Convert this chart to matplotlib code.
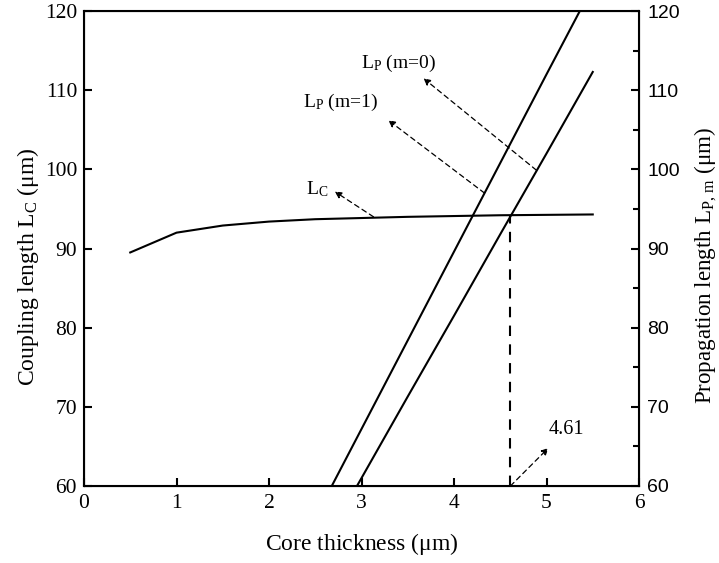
import matplotlib
matplotlib.use("Agg")
import matplotlib.pyplot as plt
from matplotlib.ticker import MultipleLocator

plt.rcParams['font.family'] = 'Liberation Serif'
plt.rcParams['mathtext.fontset'] = 'custom'
plt.rcParams['mathtext.rm'] = 'Liberation Serif'
plt.rcParams['mathtext.it'] = 'Liberation Serif'

# Coupling length vs core thickness
lc_thickness = [0.5, 1.0, 1.5, 2.0, 2.5, 3.0, 3.5, 4.0, 4.5, 5.0, 5.5]
lc_values = [89.5, 92.0, 92.9, 93.4, 93.7, 93.85, 94.0, 94.1, 94.2, 94.25, 94.3]

# Propagation lengths for the two modes
lp_thickness = [2.5, 3.0, 3.5, 4.0, 4.5, 5.0, 5.5]
lp_m1 = [56.0, 67.2, 78.4, 89.6, 100.8, 112.0, 123.1]
lp_m0 = [50.8, 61.0, 71.3, 81.5, 91.8, 102.0, 112.3]

cross_x = 4.61
cross_y = 94.2

fig = plt.figure(figsize=(7.19, 5.63), dpi=100)
ax = fig.add_axes([84 / 719, 1 - 486 / 563, (639 - 84) / 719, (486 - 11) / 563])

ax.plot(lc_thickness, lc_values, color='black', lw=1.5)
ax.plot(lp_thickness, lp_m1, color='black', lw=1.5)
ax.plot(lp_thickness, lp_m0, color='black', lw=1.5)
ax.plot([cross_x, cross_x], [60, cross_y], color='black', lw=1.5, ls=(0, (5, 4)))

ax.set_xlim(0, 6)
ax.set_ylim(60, 120)
ax.xaxis.set_major_locator(MultipleLocator(1))
ax.yaxis.set_major_locator(MultipleLocator(10))
ax.tick_params(axis='both', direction='in', length=6, width=1.5, labelsize=15.5, top=False)
ax.tick_params(axis='x', pad=6)
ax.tick_params(axis='y', pad=5)
for s in ax.spines.values():
    s.set_linewidth(1.5)

ax.set_xlabel(r'Core thickness ($\mathregular{\mu}$m)', fontsize=17, labelpad=13)
ax.set_ylabel(r'Coupling length L$_\mathregular{C}$ ($\mathregular{\mu}$m)', fontsize=17, labelpad=3)
ax.yaxis.label.set_y(0.462)

ax2 = ax.twinx()
ax2.set_ylim(60, 120)
ax2.yaxis.set_major_locator(MultipleLocator(10))
ax2.yaxis.set_minor_locator(MultipleLocator(5))
ax2.tick_params(axis='y', which='major', direction='in', length=6, width=1.5, labelsize=14, pad=6)
ax2.tick_params(axis='y', which='minor', direction='in', length=4, width=1.5)
for lbl in ax2.get_yticklabels():
    lbl.set_fontfamily('Liberation Sans')
ax2.set_ylabel(r'Propagation length L$_\mathregular{P,\,m}$ ($\mathregular{\mu}$m)', fontsize=16.6, labelpad=9)
ax2.yaxis.label.set_y(0.464)

arrow = dict(arrowstyle='-|>', color='black', lw=0.9, ls=(0, (4, 3)), mutation_scale=10,
             shrinkA=0, shrinkB=0)

ax.annotate('', xy=(2.71, 97.2), xytext=(3.13, 94.0), arrowprops=arrow)
ax.text(2.52, 97.5, r'L$_\mathregular{C}$', fontsize=14, ha='center', va='center')

ax.annotate('', xy=(3.29, 106.2), xytext=(4.33, 97.0), arrowprops=arrow)
ax.text(2.77, 108.5, r'L$_\mathregular{P}$ (m=1)', fontsize=14, ha='center', va='center')

ax.annotate('', xy=(3.67, 111.5), xytext=(4.89, 99.9), arrowprops=arrow)
ax.text(3.40, 113.4, r'L$_\mathregular{P}$ (m=0)', fontsize=14, ha='center', va='center')

ax.annotate('', xy=(5.02, 64.8), xytext=(cross_x, 60.0), arrowprops=arrow)
ax.text(5.21, 67.2, '4.61', fontsize=14.5, ha='center', va='center')

fig.savefig('out.png', dpi=100)
